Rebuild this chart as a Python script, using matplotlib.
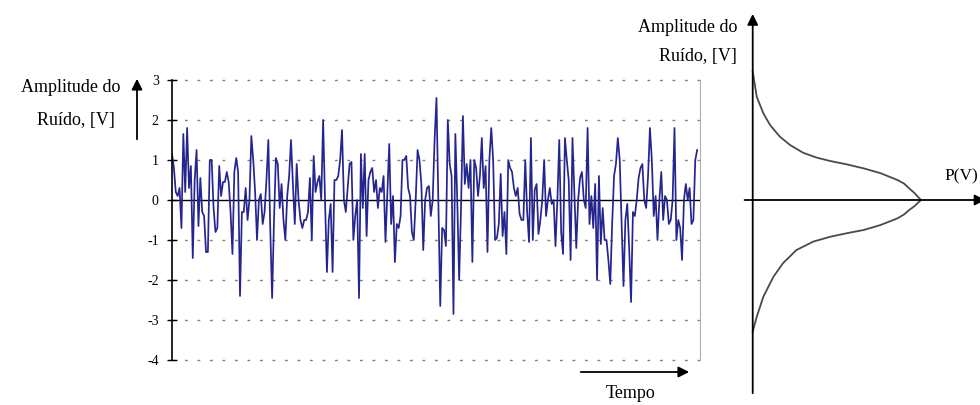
import numpy as np
import matplotlib
matplotlib.use('Agg')
import matplotlib.pyplot as plt

plt.rcParams['font.family'] = ['Liberation Serif', 'DejaVu Serif']

# noise samples (V), read left to right
ruido = [1.15, 0.8, 0.2, 0.1, 0.3, -0.7, 1.65, 0.2, 1.8, 0.3, 0.85, -1.45, 0.5, 1.25, -0.65,
         0.55, -0.3, -0.4, -1.3, -1.3, 1.0, 1.0, -0.2, -0.8, -0.7, 0.85, 0.1, 0.45, 0.45, 0.7,
         0.45, -0.3, -1.35, 0.7, 1.05, 0.7, -2.4, -0.3, -0.3, 0.3, -0.5, 0.0, 1.6, 1.0, 0.2,
         -1.0, 0.0, 0.15, -0.6, -0.3, 0.5, 1.5, -0.7, -2.45, -0.5, 1.05, 0.9, -0.2, 0.4, -0.5,
         -1.0, 0.1, 0.6, 1.5, 0.4, -0.6, 0.9, 0.0,
         -0.5, -0.7, -0.5, -0.5, -0.3, 0.55, -1.0, 1.1, 0.2, 0.45, 0.6, 0.0, 2.0, 0.0, -1.8,
         -0.5, -0.1, -1.8, 0.5, 0.5, 0.6, 1.0, 1.75, 0.0, -0.3, 0.3, 0.9, 0.95, -1.0, -0.4,
         0.0, -2.45, 1.15, -0.2, 1.15, -0.9, 0.5, 0.7, 0.8, 0.2, 0.5, -0.2, 0.3, 0.2, 0.6,
         -1.05, 0.2, 1.4, -0.6, 0.1, -1.55, -0.6, -0.7, -0.4, 1.0, 1.0, 1.1, 0.3, 0.1, -0.8,
         -1.0, 0.0, 1.25, 1.0, 0.4, -1.25, 0.0, 0.3, 0.35, -0.4, 0.0, 1.5,
         2.55, -0.1, -2.65, -0.7, -0.75, -1.15, 2.0, 0.9, 0.6, -2.85, 1.65, 0.0, -2.0, -0.2,
         2.1, 0.4, 0.9, 0.3, 1.0, -1.55, 1.0, 0.8, 0.1, 0.6, 1.55, 0.3, 0.85, -1.3, 1.0, 1.8,
         1.0, -1.0, -0.95, -0.6, 0.65, -0.9, -0.3, -1.35, 1.0, 0.8, 0.7, 0.3, 0.1, 0.3, -0.35,
         -0.5, -0.5, 1.0, -0.3, -1.05, 1.55, -1.0, 0.25, 0.4, -0.85, -0.5, 0.0, 1.0, -0.4, 0.0,
         0.3, -0.1, 0.0, -1.15, 0.0, 1.5, -0.8, -1.35,
         1.55, 1.0, 0.5, -1.5, 1.55, 0.2, -1.2, 0.0, 0.55, 0.7, 0.0, -0.2, 1.8, -0.6, 0.1,
         -0.7, 0.4, -2.0, 0.6, -1.1, -0.2, -1.0, -1.0, -1.5, -2.1, -0.6, 0.6, 0.9, 1.55, 1.0,
         -0.6, -2.15, -0.5, -0.1, -1.2, -2.55, -0.3, -0.4, 0.0, 0.55, 0.8, 0.9, 0.0, -0.2, 0.6,
         1.8, 1.0, -0.4, 0.1, -1.0, 0.0, 0.7, -0.5, 0.1, 0.0, -0.6, -0.5, 0.0, 1.8, -1.0,
         -0.5, -0.7, -1.5, 0.0, 0.4, 0.0, 0.3, -0.6, -0.5, 1.0, 1.25]

# probability density curve: P(V) (normalised) against amplitude
p_sup = [0.0, 0.024, 0.063, 0.103, 0.162, 0.222, 0.30, 0.38, 0.46, 0.56, 0.66, 0.76, 0.86,
         0.90, 0.93, 0.96, 0.98, 1.0]
v_sup = [3.21, 2.58, 2.17, 1.875, 1.58, 1.375, 1.18, 1.06, 0.975, 0.89, 0.79, 0.67, 0.5,
         0.41, 0.29, 0.18, 0.09, 0.0]
p_inf = [1.0, 0.98, 0.96, 0.93, 0.90, 0.86, 0.76, 0.66, 0.56, 0.46, 0.36, 0.26, 0.18, 0.123,
         0.063, 0.024, 0.0]
v_inf = [0.0, -0.08, -0.16, -0.25, -0.36, -0.46, -0.625, -0.75, -0.83, -0.92, -1.04, -1.25,
         -1.58, -1.92, -2.42, -2.92, -3.29]

y_ticks = [3, 2, 1, 0, -1, -2, -3, -4]

W, H = 980, 405
fig = plt.figure(figsize=(W / 100, H / 100), dpi=100)
fig.patch.set_facecolor('white')

#%% left panel: noise in time
ax = fig.add_axes([172 / W, 1 - 360 / H, 528 / W, 280 / H])
t = np.arange(len(ruido))
ax.set_xlim(0, len(ruido) + 0.5)
ax.set_ylim(-4, 3)
for v in y_ticks:
    if v == 0:
        ax.axhline(0, color='black', lw=1.0, zorder=1)
    else:
        ax.axhline(v, color='#808080', lw=1.0, linestyle=(0, (2, 7)), zorder=1, clip_on=False)
ax.plot(t, ruido, color='#25258f', lw=1.25, zorder=2)

ax.set_xticks([])
ax.set_yticks(y_ticks)
ax.set_yticklabels([str(v) for v in y_ticks], fontsize=10)
ax.tick_params(axis='y', direction='inout', length=7, width=1, pad=6, colors='black')
for side in ['top', 'bottom']:
    ax.spines[side].set_visible(False)
ax.spines['left'].set_linewidth(1.2)
ax.spines['right'].set_color('#b0b0b0')
ax.spines['right'].set_linewidth(0.8)

fig.text(120 / W, 1 - 88 / H, 'Amplitude do', ha='right', va='center', fontsize=13)
fig.text(115 / W, 1 - 121 / H, 'Ruído, [V]', ha='right', va='center', fontsize=13)
ax.annotate('', xy=(137 / W, 1 - 76 / H), xytext=(137 / W, 1 - 142 / H),
            xycoords='figure fraction', textcoords='figure fraction',
            arrowprops=dict(arrowstyle='-|>', color='black', lw=1.3, mutation_scale=16))
ax.annotate('', xy=(692 / W, 1 - 372 / H), xytext=(578 / W, 1 - 372 / H),
            xycoords='figure fraction', textcoords='figure fraction',
            arrowprops=dict(arrowstyle='-|>', color='black', lw=1.3, mutation_scale=16))
fig.text(631 / W, 1 - 394 / H, 'Tempo', ha='center', va='center', fontsize=13)

#%% right panel: amplitude distribution
ax2 = fig.add_axes([730 / W, 0, 250 / W, 1])
ax2.set_xlim(-0.135, 1.351)
ax2.set_ylim(-5.125, 5.0)
ax2.axis('off')
ax2.plot(p_sup, v_sup, color='#4a4a4a', lw=1.3)
ax2.plot(p_inf, v_inf, color='#4a4a4a', lw=1.3)
ax2.annotate('', xy=(0, 4.72), xytext=(0, -4.9),
             arrowprops=dict(arrowstyle='-|>', color='black', lw=1.3, mutation_scale=16),
             annotation_clip=False)
ax2.annotate('', xy=(1.40, 0), xytext=(-0.065, 0),
             arrowprops=dict(arrowstyle='-|>', color='black', lw=1.3, mutation_scale=16),
             annotation_clip=False)
fig.text(737 / W, 1 - 27 / H, 'Amplitude do', ha='right', va='center', fontsize=13)
fig.text(737 / W, 1 - 57 / H, 'Ruído, [V]', ha='right', va='center', fontsize=13)
fig.text(944 / W, 1 - 176 / H, 'P(V)', ha='left', va='center', fontsize=12.5)

fig.savefig('out.png', dpi=100, facecolor='white')
